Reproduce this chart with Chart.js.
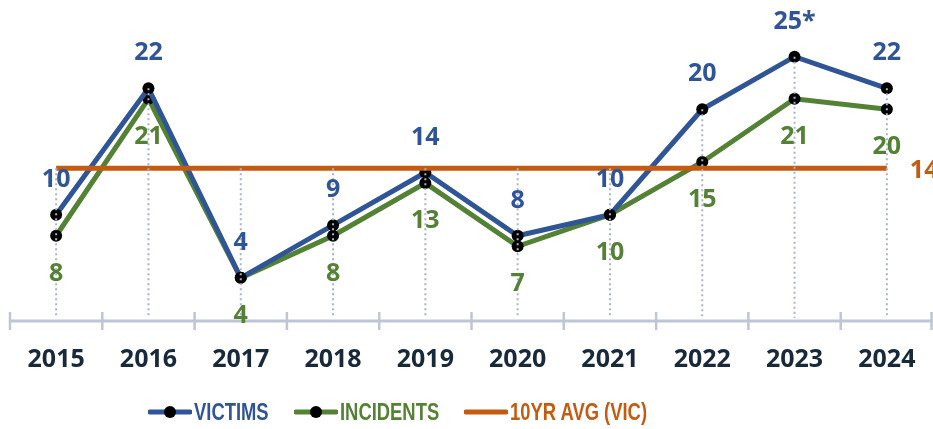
<!DOCTYPE html>
<html>
<head>
<meta charset="utf-8">
<script src="https://cdn.jsdelivr.net/npm/chart.js@4/dist/chart.umd.min.js"></script>
<style>
  html, body { margin: 0; padding: 0; background: #fff; }
  #wrap { position: relative; width: 933px; height: 429px; }
  #legend {
    position: absolute; left: 148px; top: 401px; height: 22px;
    display: flex; align-items: center;
    font: bold 23px 'Liberation Sans', Arial, sans-serif;
  }
  #legend .item { display: flex; align-items: center; margin-right: 25px; line-height: 22px; }
  #legend svg { margin-right: 2px; }
  #legend span { display: inline-block; transform: scaleX(0.8); transform-origin: left center; white-space: nowrap; }
</style>
</head>
<body>
<div id="wrap">
  <canvas id="chart"></canvas>
  <div id="legend"></div>
</div>
<script>
// values
const years = ["2015", "2016", "2017", "2018", "2019", "2020", "2021", "2022", "2023", "2024"];
const victims = [10, 22, 4, 9, 14, 8, 10, 20, 25, 22];
const victimNotes = ["", "", "", "", "", "", "", "", "*", ""];
const incidents = [8, 21, 4, 8, 13, 7, 10, 15, 21, 20];
const tenYearAvg = [14.4, 14.4, 14.4, 14.4, 14.4, 14.4, 14.4, 14.4, 14.4, 14.4];

const BLUE = "#2F5597";
const GREEN = "#548235";
const ORANGE = "#C55A11";
const FONT = "'Open Sans', sans-serif";

// axis line with tick marks between the years
const axisPlugin = {
    id: "axisLine",
    beforeDatasetsDraw(chart) {
        const { ctx, chartArea } = chart;
        const axisY = chartArea.bottom + 1;
        const step = (chartArea.right - chartArea.left) / years.length;
        ctx.save();
        ctx.strokeStyle = "#BEC5D4";
        ctx.lineWidth = 3;
        ctx.beginPath();
        ctx.moveTo(chartArea.left, axisY);
        ctx.lineTo(chartArea.right, axisY);
        ctx.stroke();
        ctx.lineWidth = 2.5;
        for (let i = 0; i <= years.length; i++) {
            const px = Math.min(chartArea.left + i * step, chartArea.right - 1.5);
            ctx.beginPath();
            ctx.moveTo(px, axisY - 9);
            ctx.lineTo(px, axisY + 9);
            ctx.stroke();
        }
        ctx.restore();
    }
};

// dotted drop lines + value labels
const labelPlugin = {
    id: "valueLabels",
    afterDatasetsDraw(chart) {
        const { ctx, chartArea } = chart;
        const vic = chart.getDatasetMeta(0).data;
        const inc = chart.getDatasetMeta(1).data;
        const avg = chart.getDatasetMeta(2).data;

        ctx.save();
        ctx.strokeStyle = "#A9B2C6";
        ctx.lineWidth = 2;
        ctx.setLineDash([2, 3]);
        vic.forEach((pt, i) => {
            const top = Math.min(pt.y, inc[i].y, avg[i].y);
            ctx.beginPath();
            ctx.moveTo(pt.x, top);
            ctx.lineTo(pt.x, chartArea.bottom - 2);
            ctx.stroke();
        });
        ctx.setLineDash([]);

        ctx.font = "bold 25px " + FONT;
        ctx.textAlign = "center";
        ctx.textBaseline = "middle";
        ctx.fillStyle = BLUE;
        vic.forEach((pt, i) => {
            ctx.fillText(victims[i] + victimNotes[i], pt.x, pt.y - 35);
        });
        ctx.fillStyle = GREEN;
        inc.forEach((pt, i) => {
            ctx.fillText(String(incidents[i]), pt.x, pt.y + 38);
        });
        const last = avg[avg.length - 1];
        ctx.fillStyle = ORANGE;
        ctx.textAlign = "left";
        ctx.fillText(String(Math.round(tenYearAvg[tenYearAvg.length - 1])), last.x + 23, last.y + 3);
        ctx.restore();
    }
};

const chart = new Chart(document.getElementById("chart"), {
    type: "line",
    data: {
        labels: years,
        datasets: [
            {
                label: "VICTIMS",
                data: victims,
                borderColor: BLUE,
                borderWidth: 5,
                pointRadius: 6,
                pointBackgroundColor: "#000",
                pointBorderWidth: 0,
                order: 1
            },
            {
                label: "INCIDENTS",
                data: incidents,
                borderColor: GREEN,
                borderWidth: 5,
                pointRadius: 6,
                pointBackgroundColor: "#000",
                pointBorderWidth: 0,
                order: 2
            },
            {
                label: "10YR AVG (VIC)",
                data: tenYearAvg,
                borderColor: ORANGE,
                borderWidth: 5,
                pointRadius: 0,
                order: 0
            }
        ]
    },
    options: {
        responsive: true,
        maintainAspectRatio: false,
        animation: false,
        layout: { autoPadding: false, padding: { left: 10, right: 0, top: 4, bottom: 29 } },
        elements: { line: { tension: 0, borderCapStyle: "butt" } },
        plugins: {
            legend: { display: false },
            tooltip: { enabled: false }
        },
        scales: {
            x: {
                offset: true,
                grid: { display: false, drawTicks: false },
                border: { display: false },
                ticks: {
                    padding: 25,
                    color: "#17293A",
                    font: { family: FONT, size: 25, weight: "bold" }
                },
                // tick padding should not push the plot in from the sides
                afterFit(scale) {
                    scale.paddingLeft = 0;
                    scale.paddingRight = 0;
                }
            },
            y: {
                display: false,
                min: 0,
                max: 30
            }
        }
    },
    plugins: [axisPlugin, labelPlugin]
});

// html legend built from the chart's datasets
const legendEl = document.getElementById("legend");
chart.data.datasets.forEach(ds => {
    const item = document.createElement("div");
    item.className = "item";
    item.style.color = ds.borderColor;
    const dot = ds.pointRadius ? '<circle cx="22" cy="7" r="6" fill="#000"/>' : "";
    item.innerHTML =
        '<svg width="44" height="14"><line x1="2" y1="7" x2="42" y2="7" stroke="' + ds.borderColor +
        '" stroke-width="5" stroke-linecap="round"/>' + dot + "</svg><span>" + ds.label + "</span>";
    legendEl.appendChild(item);
    const span = item.querySelector("span");
    span.style.marginRight = (-span.offsetWidth * 0.2) + "px";
});
</script>
</body>
</html>
